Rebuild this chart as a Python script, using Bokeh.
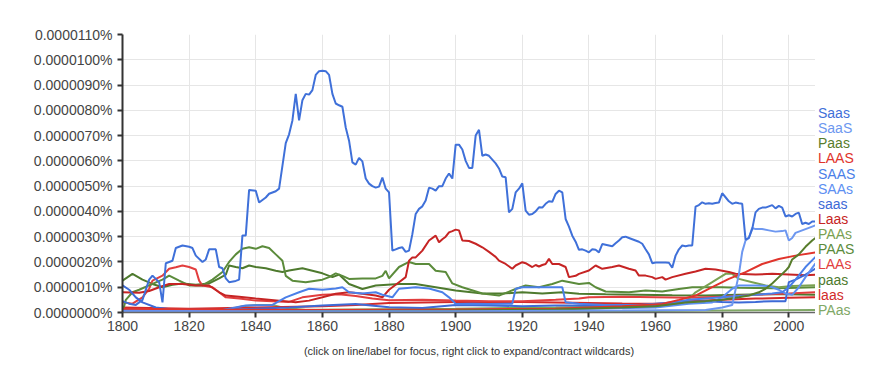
from bokeh.plotting import figure
from bokeh.layouts import row
from bokeh.models import Range1d, FixedTicker, Title, Div
from bokeh.embed import file_html
from bokeh.resources import INLINE

# values are in millionths of a percent (1.0 -> 0.0000010%)
Saas_x = [1800,1802,1804,1806,1808,1809,1811,1812,1813,1815,1816,1818,1820,1821,1822,1824,1825,1826,1828,1829,1830,1831,1832,1834,1835,1836,1837,1838,1840,1841,1842,1843,1844,1846,1847,1848,1849,1850,1851,1852,1853,1854,1855,1856,1857,1858,1859,1860,1861,1862,1863,1864,1865,1866,1867,1868,1869,1870,1871,1872,1873,1874,1875,1876,1877,1878,1879,1880,1881,1882,1883,1884,1885,1886,1887,1888,1889,1890,1891,1892,1893,1894,1895,1896,1897,1898,1899,1900,1901,1902,1903,1904,1905,1906,1907,1908,1909,1910,1911,1912,1913,1914,1915,1916,1917,1918,1919,1920,1921,1922,1923,1924,1925,1926,1927,1928,1929,1930,1931,1932,1933,1934,1935,1936,1937,1938,1939,1940,1941,1942,1943,1944,1945,1946,1947,1948,1949,1950,1951,1952,1953,1954,1955,1956,1957,1958,1959,1960,1961,1962,1963,1964,1965,1966,1967,1968,1969,1970,1971,1972,1973,1974,1975,1976,1977,1978,1979,1980,1981,1982,1983,1984,1985,1986,1987,1988,1989,1990,1991,1992,1993,1994,1995,1996,1997,1998,1999,2000,2001,2002,2003,2004,2005,2006,2007,2008]
Saas_y = [0.45,0.35,0.3,0.5,1.3,1.46,1.2,0.4,1.95,2.05,2.55,2.65,2.6,2.55,2.25,2.0,2.1,2.5,2.5,1.8,1.75,1.35,1.2,1.25,1.3,3.05,3.05,4.85,4.82,4.35,4.45,4.55,4.7,4.8,4.9,5.8,6.7,7.05,7.6,8.65,7.6,8.4,8.65,8.62,8.8,9.4,9.55,9.57,9.55,9.4,8.65,8.27,8.2,8.14,7.32,6.8,5.94,5.85,6.12,5.98,5.3,5.1,5.0,4.94,4.98,5.34,4.9,4.75,2.45,2.5,2.55,2.58,2.4,2.45,3.1,3.9,4.1,4.2,4.43,4.94,4.9,4.82,5.0,5.0,5.3,5.5,5.3,6.64,6.64,6.45,6.0,5.72,5.72,7.0,7.23,6.2,6.25,6.2,6.05,5.9,5.7,5.38,5.35,3.96,4.1,4.75,4.9,5.11,4.03,3.87,3.9,4.0,4.16,4.15,4.3,4.4,4.38,4.69,4.82,4.75,3.7,3.4,3.04,2.8,2.48,2.5,2.45,2.38,2.5,2.48,2.38,2.71,2.68,2.65,2.62,2.74,2.85,2.98,3.0,2.95,2.9,2.85,2.8,2.72,2.5,2.3,1.95,1.98,1.98,1.98,1.98,1.97,1.77,2.25,2.5,2.65,2.62,2.65,2.65,4.19,4.25,4.36,4.3,4.32,4.3,4.33,4.35,4.72,4.56,4.4,4.3,4.35,4.32,4.3,2.88,2.95,3.3,3.96,4.1,4.15,4.15,4.2,4.25,4.12,4.22,4.15,3.8,3.85,3.8,3.9,3.95,3.5,3.55,3.5,3.6,3.6]

SaaS_x = [1800,1850,1900,1950,1975,1980,1983,1984,1985,1986,1987,1988,1989,1990,1992,1994,1996,1998,1999,2000,2001,2002,2003,2004,2005,2006,2007,2008]
SaaS_y = [0.05,0.05,0.05,0.08,0.1,0.2,0.3,0.9,1.5,2.4,2.85,2.95,3.35,3.3,3.3,3.25,3.2,3.22,3.25,2.85,2.95,3.15,3.2,3.25,3.3,3.35,3.4,3.45]

Paas_x = [1800,1830,1850,1900,1930,1950,1960,1969,1975,1980,1985,1988,1991,1993,1995,1997,1999,2000,2001,2003,2005,2007,2008]
Paas_y = [0.0,0.02,0.05,0.08,0.12,0.2,0.25,0.4,0.45,0.5,0.6,0.67,0.8,0.94,1.15,1.4,1.65,1.8,2.1,2.3,2.6,2.85,2.95]

LAAS_x = [1800,1830,1860,1900,1930,1950,1962,1967,1972,1977,1982,1987,1992,1997,2002,2008]
LAAS_y = [0.15,0.12,0.1,0.12,0.15,0.25,0.34,0.5,0.67,1.0,1.33,1.6,1.92,2.12,2.25,2.38]

SAAS_x = [1800,1820,1830,1837,1845,1849,1853,1856,1860,1864,1866,1868,1872,1876,1878,1881,1883,1888,1892,1896,1898,1900,1905,1910,1917,1918,1920,1925,1928,1932,1933,1937,1945,1955,1965,1970,1975,1980,1985,1990,1995,1998,2000,2002,2005,2008]
SAAS_y = [0.1,0.08,0.1,0.28,0.3,0.6,0.8,0.94,0.9,0.95,1.0,0.8,0.75,0.8,0.7,0.6,0.94,1.0,0.95,0.8,0.6,0.34,0.35,0.34,0.35,0.94,1.0,1.0,1.0,1.0,0.41,0.35,0.3,0.3,0.4,0.5,0.55,0.6,0.65,0.7,0.75,0.8,1.0,1.3,1.8,2.2]

SAAs_x = [1800,1850,1900,1940,1960,1970,1977,1980,1983,1985,1990,1994,1997,1999,2001,2003,2005,2008]
SAAs_y = [0.02,0.05,0.1,0.15,0.2,0.35,0.4,0.6,0.94,1.07,1.07,1.05,0.9,0.75,0.7,1.0,1.4,1.95]

saas_x = [1800,1802,1804,1806,1810,1815,1830,1850,1860,1870,1880,1890,1900,1910,1920,1930,1940,1950,1960,1967,1975,1980,1985,1990,1995,1999,2000,2002,2005,2008]
saas_y = [1.07,0.9,0.6,0.4,0.2,0.12,0.1,0.2,0.28,0.34,0.21,0.18,0.3,0.28,0.25,0.28,0.28,0.27,0.3,0.41,0.45,0.42,0.4,0.42,0.45,0.45,1.2,1.3,1.5,1.74]

Laas_x = [1800,1805,1808,1811,1814,1818,1822,1826,1829,1831,1835,1840,1847,1852,1856,1860,1864,1868,1872,1876,1878,1880,1881,1883,1885,1886,1887,1888,1890,1892,1894,1895,1896,1897,1898,1899,1900,1901,1902,1904,1906,1908,1910,1912,1913,1915,1917,1918,1920,1921,1923,1924,1925,1926,1927,1928,1929,1931,1933,1934,1936,1937,1940,1942,1944,1947,1949,1952,1954,1955,1957,1959,1960,1962,1963,1965,1969,1972,1975,1978,1982,1984,1990,1995,2000,2005,2008]
Laas_y = [0.8,0.78,0.85,1.0,1.13,1.13,1.07,1.07,0.8,0.67,0.62,0.55,0.47,0.41,0.47,0.6,0.74,0.8,0.74,0.67,0.6,0.9,1.0,1.2,1.4,2.05,2.18,2.18,2.45,2.85,3.04,2.78,2.9,3.0,3.17,3.22,3.28,3.25,2.85,2.83,2.72,2.58,2.4,2.2,2.05,1.92,1.73,1.86,1.99,1.95,1.8,1.88,1.82,1.88,1.92,2.12,1.92,1.92,1.8,1.4,1.45,1.53,1.66,1.86,1.73,1.8,1.86,1.73,1.66,1.46,1.46,1.4,1.33,1.4,1.3,1.4,1.53,1.62,1.73,1.7,1.6,1.53,1.5,1.53,1.5,1.47,1.49]

PAAs_x = [1800,1850,1900,1930,1950,1965,1969,1972,1977,1981,1983,1985,1989,1993,1997,2001,2008]
PAAs_y = [0.05,0.1,0.15,0.2,0.25,0.3,0.41,0.8,1.2,1.53,1.53,1.33,1.2,1.07,1.0,1.05,1.08]

PAAS_x = [1800,1801,1803,1805,1809,1812,1814,1817,1820,1824,1827,1830,1832,1834,1836,1838,1840,1842,1844,1846,1848,1849,1851,1855,1860,1862,1864,1866,1868,1872,1876,1878,1879,1880,1883,1886,1888,1892,1894,1897,1899,1902,1908,1913,1918,1921,1925,1929,1932,1937,1940,1942,1945,1952,1957,1962,1967,1971,1975,1980,1985,1990,1995,2000,2008]
PAAS_y = [0.0,0.5,0.8,0.9,1.13,1.3,1.46,1.26,1.07,1.07,1.3,1.6,2.0,2.3,2.52,2.58,2.52,2.62,2.55,2.3,2.05,1.45,1.26,1.2,1.3,1.4,1.55,1.45,1.33,1.35,1.35,1.45,1.65,1.35,1.8,2.0,1.92,1.92,1.65,1.6,1.15,1.0,0.75,0.67,0.93,1.07,1.0,1.13,1.26,1.13,1.17,1.0,0.83,0.8,0.87,0.83,0.93,1.0,1.0,1.0,0.98,0.97,0.96,0.97,1.0]

LAAs_x = [1800,1803,1806,1808,1809,1812,1814,1816,1818,1820,1822,1823,1824,1827,1829,1831,1835,1840,1845,1850,1854,1860,1865,1870,1875,1880,1890,1900,1910,1920,1930,1937,1940,1950,1960,1970,1980,1990,2000,2008]
LAAs_y = [0.41,0.35,0.6,0.94,1.26,1.46,1.73,1.79,1.86,1.8,1.7,1.26,1.07,1.0,0.8,0.6,0.55,0.47,0.45,0.42,0.6,0.7,0.72,0.65,0.55,0.48,0.5,0.47,0.45,0.45,0.5,0.55,0.6,0.62,0.6,0.58,0.62,0.7,0.75,0.8]

paas_x = [1800,1803,1806,1809,1812,1815,1818,1822,1826,1829,1831,1832,1834,1836,1838,1840,1843,1846,1848,1850,1854,1857,1860,1863,1865,1868,1872,1876,1883,1888,1894,1900,1908,1914,1920,1926,1932,1937,1945,1955,1965,1975,1985,1995,2008]
paas_y = [1.26,1.53,1.3,1.13,1.0,1.1,1.15,1.1,1.15,1.35,1.5,1.86,1.8,1.75,1.86,1.8,1.75,1.65,1.6,1.66,1.75,1.65,1.55,1.4,1.5,1.13,0.93,1.07,1.13,1.13,1.0,0.87,0.75,0.75,0.8,0.75,0.8,0.74,0.72,0.7,0.68,0.67,0.7,0.73,0.7]

laas_x = [1800,1820,1840,1860,1870,1880,1890,1900,1920,1940,1950,1960,1970,1980,1990,2000,2008]
laas_y = [0.2,0.15,0.2,0.25,0.3,0.38,0.4,0.42,0.42,0.38,0.36,0.35,0.45,0.5,0.55,0.58,0.6]

PAas_x = [1800,1830,1836,1840,1845,1848,1855,1900,1950,1980,2008]
PAas_y = [0.0,0.05,0.25,0.3,0.3,0.2,0.1,0.05,0.05,0.08,0.1]

names = ["Saas", "SaaS", "Paas", "LAAS", "SAAS", "SAAs", "saas", "Laas", "PAAs", "PAAS", "LAAs", "paas", "laas", "PAas"]
colors = ["#3f70d9", "#6d97f0", "#587d2c", "#e0342c", "#4b7fe8", "#5d8ff2", "#3d6ad6",
          "#c62424", "#7aa152", "#5b8b3b", "#e23e3e", "#4e7a2e", "#d22a2a", "#80a866"]
xs = [Saas_x, SaaS_x, Paas_x, LAAS_x, SAAS_x, SAAs_x, saas_x, Laas_x, PAAs_x, PAAS_x, LAAs_x, paas_x, laas_x, PAas_x]
ys = [Saas_y, SaaS_y, Paas_y, LAAS_y, SAAS_y, SAAs_y, saas_y, Laas_y, PAAs_y, PAAS_y, LAAs_y, paas_y, laas_y, PAas_y]

y_ticks = list(range(0, 12))
x_ticks = list(range(1800, 2001, 20))

p = figure(width=815, height=377, x_range=Range1d(1800, 2008), y_range=Range1d(0, 11),
           output_backend="svg", toolbar_location=None,
           min_border_left=122, min_border_right=0, min_border_top=34, min_border_bottom=65)
p.outline_line_color = None
p.background_fill_color = "white"
p.border_fill_color = "white"

for i in reversed(range(len(names))):
    p.line(xs[i], ys[i], line_color=colors[i], line_width=2)

p.yaxis.ticker = FixedTicker(ticks=y_ticks)
p.yaxis.major_label_overrides = {t: "%.7f%%" % (t * 1e-6) for t in y_ticks}
p.xaxis.ticker = FixedTicker(ticks=x_ticks)
p.xgrid.ticker = FixedTicker(ticks=x_ticks)
p.ygrid.ticker = FixedTicker(ticks=y_ticks)
p.grid.grid_line_color = "#e6e6e6"
p.grid.grid_line_width = 1

for ax in (p.xaxis, p.yaxis):
    ax.major_label_text_font = "Liberation Sans"
    ax.major_label_text_font_size = "14px"
    ax.major_label_text_color = "#444444"
    ax.minor_tick_line_color = None
    ax.major_tick_in = 0
    ax.major_tick_out = 5
p.yaxis.axis_line_color = "#333333"
p.yaxis.axis_line_width = 2
p.yaxis.major_tick_line_color = "#333333"
p.yaxis.major_tick_line_width = 2
p.yaxis.major_label_standoff = 5
p.xaxis.axis_line_color = "#666666"
p.xaxis.axis_line_width = 1.5
p.xaxis.major_tick_line_color = "#333333"
p.xaxis.major_tick_line_width = 2
p.xaxis.major_label_standoff = 3

p.add_layout(Title(text="(click on line/label for focus, right click to expand/contract wildcards)",
                   align="center", text_font="Liberation Sans", text_font_size="11px",
                   text_font_style="normal", text_color="#333333", standoff=18), "below")

# series labels at the right, as an HTML panel next to the chart
items = "".join(
    "<div style='color:%s;white-space:nowrap;height:15.15px;line-height:15.15px;'>%s</div>" % (c, n)
    for n, c in zip(names, colors)
)
legend_html = ("<div style='padding-top:106px;padding-left:3px;font-family:\"Liberation Sans\",Arial,sans-serif;"
               "font-size:14px;line-height:15.15px;'>" + items + "</div>")
legend = Div(text=legend_html, width=72, height=377, margin=(0, 0, 0, 0))

layout = row(p, legend, spacing=0)
open("out.html", "w").write(file_html(layout, INLINE))
